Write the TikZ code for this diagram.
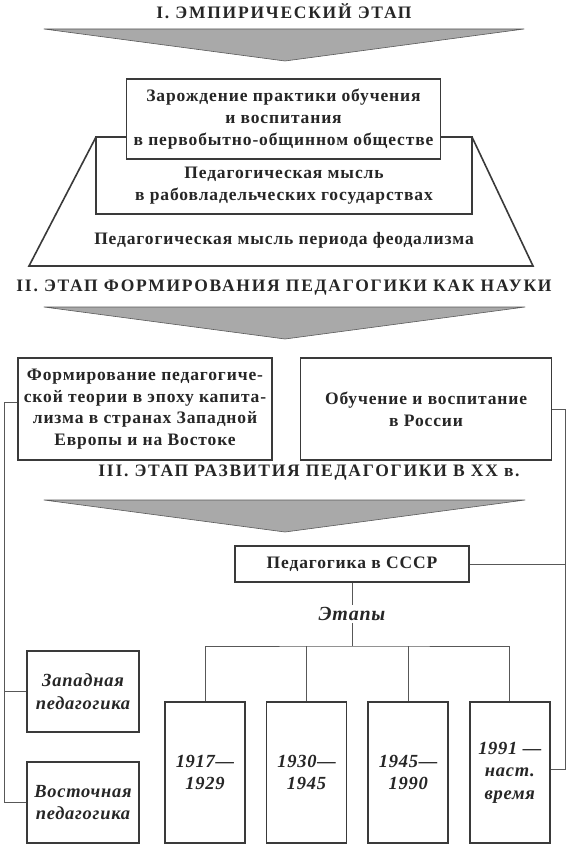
\documentclass[tikz,border=0pt]{standalone}
\usepackage{fontspec}
\setmainfont{Liberation Serif}[LetterSpace=5]
\usetikzlibrary{positioning}
\definecolor{tekst}{HTML}{262626}
\definecolor{liniya}{HTML}{3A3A3A}
\definecolor{seryj}{HTML}{A9A9A9}

\begin{document}
\begin{tikzpicture}[x=1pt,y=-1pt,
  etap/.style={font=\fontsize{17.5}{20}\selectfont\bfseries\addfontfeature{LetterSpace=10},text=tekst,inner sep=0pt},
  nadpis/.style={align=center,inner sep=2pt,text=tekst,font=\fontsize{17.5}{21.7}\selectfont\bfseries},
  blok/.style={nadpis,draw=liniya,line width=1.6pt,fill=white},
  kursiv/.style={font=\fontsize{18.5}{22.5}\selectfont\bfseries\itshape\addfontfeature{LetterSpace=4}},
  god/.style={blok,kursiv,minimum width=80pt,minimum height=141pt},
  strelka/.style={fill=seryj,draw=gray!70!black,line width=0.6pt,line join=round},
  ramka/.style={draw=liniya,line width=1.6pt},
  svyaz/.style={draw=liniya!85,line width=0.9pt}]
  \useasboundingbox (0,0) rectangle (572,851);
  % I
  \node[etap] (etap1) at (284,11) {I. ЭМПИРИЧЕСКИЙ ЭТАП};
  \draw[strelka] (44,29) -- (524,29) -- (285,61) -- cycle;
  \draw[ramka,fill=white] (96,137) -- (29,266) -- (533,266) -- (472,137) -- cycle;
  \draw[ramka] (96,137) rectangle (472,214);
  \node[nadpis] (rabovl) at (284,186) {Педагогическая мысль\\в рабовладельческих государствах};
  \node[nadpis] (feodal) at (284,240) {Педагогическая мысль периода феодализма};
  \node[blok,minimum width=314pt,minimum height=80pt] (zarozh) at (283.5,119)
    {Зарождение практики обучения\\и воспитания\\в первобытно-общинном обществе};
  % II
  \node[etap] (etap2) at (284,288) {II. ЭТАП ФОРМИРОВАНИЯ ПЕДАГОГИКИ КАК НАУКИ};
  \draw[strelka] (44,307) -- (525,307) -- (285,339) -- cycle;
  \node[blok,minimum width=254pt,minimum height=102pt] (kapital) at (145,409)
    {Формирование педагогиче-\\ской теории в эпоху капита-\\лизма в странах Западной\\Европы и на Востоке};
  \node[blok,minimum width=251pt,minimum height=102pt,right=27pt of kapital] (rossiya)
    {Обучение и воспитание\\в России};
  % III
  \node[etap] (etap3) at (309,473) {III. ЭТАП РАЗВИТИЯ ПЕДАГОГИКИ В XX в.};
  \draw[strelka] (44,500) -- (525,500) -- (285,532) -- cycle;
  \node[blok,minimum width=234pt,minimum height=36pt] (sssr) at (352,564) {Педагогика в СССР};
  \node[nadpis,kursiv,font=\fontsize{20}{22}\selectfont\bfseries\itshape\addfontfeature{LetterSpace=4}] (etapy) at (352,614) {Этапы};
  \node[god] (god1) at (205,772.5) {1917—\\1929};
  \node[god,right=20pt of god1] (god2) {1930—\\1945};
  \node[god,right=20pt of god2] (god3) {1945—\\1990};
  \node[god,right=20pt of god3] (god4) {1991 —\\наст.\\время};
  \node[blok,kursiv,minimum width=112pt,minimum height=81pt] (zapad) at (83,691.5) {Западная\\педагогика};
  \node[blok,kursiv,minimum width=112pt,minimum height=81pt] (vostok) at (83,802.5) {Восточная\\педагогика};
  % svyazi
  \coordinate (levo) at (4,402);
  \coordinate (pravo) at (565,409);
  \coordinate (vetv) at (352,646);
  \draw[svyaz] ([yshift=7pt]kapital.west) -- (levo) |- (vostok.west);
  \draw[svyaz] (zapad.west) -- (zapad.west -| levo);
  \draw[svyaz] (rossiya.east) -- (pravo) |- ([yshift=3pt]god4.east);
  \draw[svyaz] (sssr.east) -- (sssr.east -| pravo);
  \draw[svyaz] (sssr) -- (etapy);
  \draw[svyaz] (etapy.south) -- (vetv);
  \draw[svyaz] (god1.north) |- (vetv) -| (god4.north);
  \draw[svyaz] (god2.north) -- (god2.north |- vetv);
  \draw[svyaz] (god3.north) -- (god3.north |- vetv);
\end{tikzpicture}
\end{document}
